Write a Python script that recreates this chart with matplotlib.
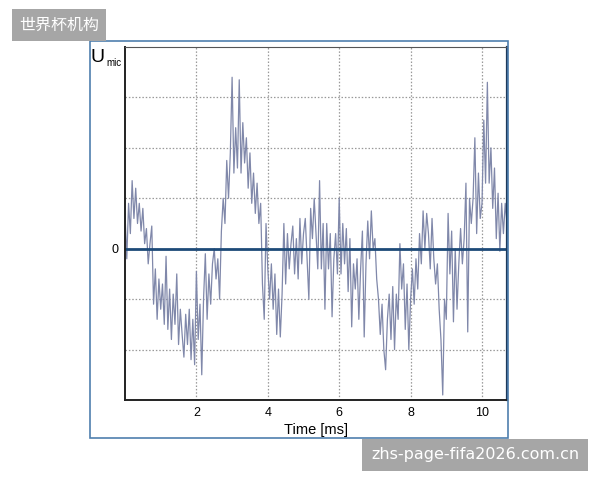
import numpy as np
import matplotlib.pyplot as plt
from matplotlib.patches import Rectangle

# ------------------------------------------------------------
# Microphone signal (grid units, 0.05 ms steps)
# ------------------------------------------------------------
u_mic = [
    0.7, -0.2, 0.9, 0.3, 1.35, 0.6, 1.2, 0.5, 0.9, 0.35,
    0.8, 0.1, 0.4, -0.3, 0.1, 0.45, -1.1, -0.4, -1.4, -0.6,
    -1.2, -0.7, -1.5, -0.15, -1.6, -0.8, -1.8, -0.9, -1.5, -0.5,
    -1.9, -1.2, -1.7, -2.15, -1.3, -1.9, -1.2, -2.2, -1.4, -2.3,
    -0.45, -1.8, -1.1, -2.5, -1.0, -0.1, -1.4, -0.5, -1.1, -0.3,
    0.0, -0.6, -0.2, -1.0, 0.35, 1.0, 0.5, 1.75, 1.0, 1.9,
    3.4, 1.5, 2.4, 1.6, 3.35, 1.5, 2.5, 1.7, 2.2, 1.2,
    1.9, 0.9, 1.5, 0.7, 1.3, 0.5, 0.9, -0.7, -1.4, 0.5,
    -0.4, -1.0, -0.3, -1.2, -0.5, -1.7, -0.8, -1.75, -0.9, 0.5,
    -0.7, 0.3, -0.4, 0.1, 0.45, -0.5, 0.2, -0.6, 0.6, -0.3,
    0.3, 0.6, -0.2, -1.0, 0.8, 0.2, 1.0, 0.3, -0.4, 1.35,
    -0.4, 0.5, -1.2, 0.5, -0.4, 0.3, -1.35, -0.2, 0.3, -0.5,
    1.0, -0.5, 0.5, -0.3, 0.4, -0.85, 0.2, -1.55, -0.3, -0.8,
    -0.2, -1.4, -0.4, 0.35, -1.75, -0.3, 0.55, -0.2, 0.75, 0.0,
    0.2, -0.6, -1.0, -1.7, -1.1, -2.0, -2.4, -1.4, -0.9, -1.8,
    -0.75, -2.0, -0.9, -1.4, 0.1, -0.8, -0.3, -1.6, -0.7, -2.0,
    -1.0, -0.4, -1.1, -0.2, -0.8, 0.3, -0.3, 0.75, 0.0, 0.7,
    0.3, -0.4, 0.6, -0.2, -0.7, -0.3, -1.2, -1.8, -2.9, -1.0,
    -1.4, 0.7, -0.5, 0.35, -1.45, 0.0, -1.2, -0.3, 0.4, -0.3,
    0.2, 1.3, -1.65, 1.0, 0.5, 1.0, 2.2, 0.3, 1.5, 0.6,
    0.9, 2.55, 1.3, 3.3, 1.3, 2.0, 0.8, 1.6, 0.2, 1.1,
    -0.05, 0.9, 0.3, 0.9, 0.5,
]
dt_ms = 0.05
time_ms = np.arange(len(u_mic)) * dt_ms

x_ticks = [2, 4, 6, 8, 10]
y_grid = [-2, -1, 1, 2, 3]

# ------------------------------------------------------------
# Plot
# ------------------------------------------------------------
fig = plt.figure(figsize=(6, 4.8), dpi=100)
fig.patch.set_facecolor("white")

# outer blue frame
fig.patches.append(Rectangle((90 / 600, 1 - 438 / 480), 418 / 600, 397 / 480,
                             transform=fig.transFigure, fill=False,
                             edgecolor="#4f7fae", linewidth=1.2))

ax = fig.add_axes([125 / 600, 1 - 400 / 480, 382 / 600, 353 / 480])
ax.plot(time_ms, u_mic, color="#8088aa", linewidth=0.9)
ax.axhline(0, color="#1d4a78", linewidth=2)

ax.set_xlim(0, 10.7)
ax.set_ylim(-3, 4)
ax.set_xticks(x_ticks)
ax.set_yticks(y_grid, minor=True)
ax.set_yticks([0])
ax.grid(True, which="both", linestyle=(0, (1.2, 1.5)), color="#999999", linewidth=0.9)
ax.yaxis.grid(False, which="major")
ax.tick_params(length=0, labelsize=9, pad=5)
ax.tick_params(axis="y", which="minor", length=0)
ax.set_xticklabels([str(t) for t in x_ticks], family="Liberation Sans")
ax.set_yticklabels(["0"], family="Liberation Sans")
for side in ["left", "bottom"]:
    ax.spines[side].set_color("#222222")
    ax.spines[side].set_linewidth(1.4)
ax.spines["top"].set_color("#555555")
ax.spines["right"].set_color("#1d3a5c")
ax.spines["right"].set_linewidth(1.6)

ax.set_xlabel("Time [ms]", family="Liberation Sans", fontsize=10.5)
ax.xaxis.set_label_coords(0.5, -0.065)

fig.text(91 / 600, 1 - 62 / 480, "U", family="Liberation Sans", fontsize=14)
fig.text(106 / 600, 1 - 66 / 480, "mic", family="Liberation Sans", fontsize=7)

# watermarks
fig.text(59 / 600, 1 - 25 / 480, "世界杯机构", family=["Noto Sans CJK SC", "DejaVu Sans"],
         fontsize=11.5, color="white", ha="center", va="center",
         bbox=dict(boxstyle="square,pad=0.45", facecolor="#a6a6a6", edgecolor="none"))
fig.text(475 / 600, 1 - 455 / 480, "zhs-page-fifa2026.com.cn", family="DejaVu Sans",
         fontsize=11.5, color="white", ha="center", va="center",
         bbox=dict(boxstyle="square,pad=0.55", facecolor="#a6a6a6", edgecolor="none"))

fig.savefig("out.png", dpi=100)
